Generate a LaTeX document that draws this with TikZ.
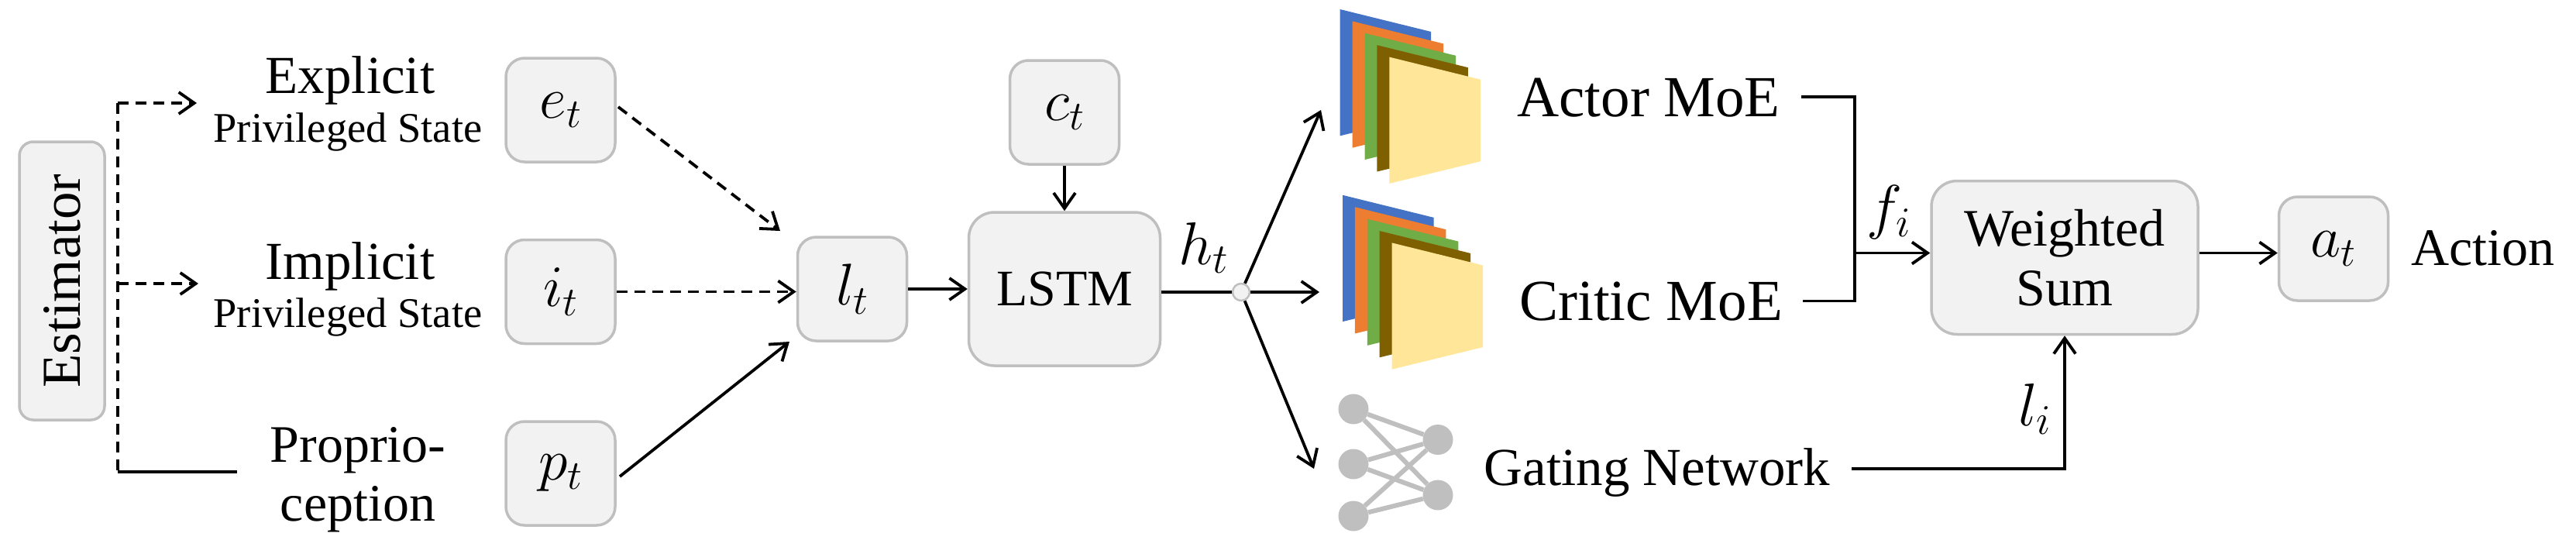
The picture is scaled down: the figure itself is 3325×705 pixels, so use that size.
\documentclass[tikz,border=0pt]{standalone}
\usepackage{fix-cm}
\usepackage{amsmath}
\usepackage{fontspec}
\setmainfont{Liberation Serif}
\usetikzlibrary{positioning, arrows.meta}

\definecolor{boxfill}{HTML}{F2F2F2}
\definecolor{boxline}{HTML}{BFBFBF}
\definecolor{sheetblue}{HTML}{4472C4}
\definecolor{sheetorange}{HTML}{ED7D31}
\definecolor{sheetgreen}{HTML}{70AD47}
\definecolor{sheetbrown}{HTML}{7F6000}
\definecolor{sheetyellow}{HTML}{FFE699}

\tikzset{
    blockbox/.style={draw=boxline, fill=boxfill, line width=3.5pt, rounded corners=24pt, inner sep=0pt, minimum width=141pt, minimum height=134pt, font=\fontsize{76}{90}\selectfont},
    bigblock/.style={blockbox, rounded corners=33pt, minimum height=198pt},
    mathlabel/.style={inner sep=0pt, font=\fontsize{78}{90}\selectfont},
    bigtext/.style={anchor=base, inner sep=0pt, font=\fontsize{69}{75}\selectfont},
    hugetext/.style={anchor=base, inner sep=0pt, font=\fontsize{75}{80}\selectfont},
    smalltext/.style={anchor=base, inner sep=0pt, font=\fontsize{54.5}{60}\selectfont},
    flow/.style={line width=3.8pt, -{Straight Barb[length=20pt, width=28pt]}},
    dashflow/.style={flow, dash pattern=on 14pt off 9pt},
    wire/.style={line width=3.8pt},
    gatedot/.style={circle, fill=boxline, inner sep=0pt, minimum size=39pt},
    gateedge/.style={draw=boxline, line width=6pt}
}

\begin{document}
\begin{tikzpicture}[x=1pt, y=-1pt]
    \useasboundingbox (0,0) rectangle (3325,705);

    \node[blockbox, minimum width=359pt, minimum height=110pt, rounded corners=18pt, rotate=90, font=\fontsize{71}{75}\selectfont] (estimator) at (80,362.5) {Estimator};

    \node[smalltext] (explicitsub) at (449,183.5) {Privileged State};
    \node[bigtext] (explicit) at (452,120.5) {Explicit};
    \node[smalltext] (implicitsub) at (449,422) {Privileged State};
    \node[bigtext] (implicit) at (452,360) {Implicit};
    \node[bigtext, align=center, anchor=center, font=\fontsize{68}{75.5}\selectfont] (proprio) at (462,619) {Proprio-\\ception};

    \node[blockbox] (et) at (723.5,142) {$e_t$};
    \node[blockbox] (it) at (723.5,376.5) {$i_t$};
    \node[blockbox] (pt) at (723.5,611) {$p_t$};
    \node[blockbox] (lt) at (1100,373) {$l_t$};
    \node[blockbox] (ct) at (1374,145) {$c_t$};
    \node[bigblock, minimum width=247pt, font=\fontsize{66}{75}\selectfont] (lstm) at (1374,373) {LSTM};
    \node[bigblock, minimum width=344pt, align=center, font=\fontsize{68}{77}\selectfont] (wsum) at (2665,332.5) {Weighted\\Sum};
    \node[blockbox] (at) at (3012,321) {$a_t$};

    \node[circle, draw=boxline, fill=boxfill, line width=2.5pt, inner sep=0pt, minimum size=22pt] (hub) at (1602,377) {};
    \node[mathlabel] (ht) at (1553,320) {$h_t$};
    \node[mathlabel] (fi) at (2438,274) {$f_i$};
    \node[mathlabel] (li) at (2626,528) {$l_i$};

    \foreach \sx/\sy in {1729.7/12, 1733/251.8}
    {
    \foreach \i/\sheetcol in {0/sheetblue, 1/sheetorange, 2/sheetgreen, 3/sheetbrown, 4/sheetyellow}
    {
    \fill[\sheetcol] ({\sx+15.9*\i},{\sy+15.4*\i}) -- ++(117.5,29) -- ++(0,105.7) -- ++(-117.5,28.6) -- cycle;
    }
    }

    \foreach \i/\gy in {1/528, 2/599, 3/666}
    {
    \node[gatedot] (gin\i) at (1747,\gy) {};
    }
    \foreach \i/\gy in {1/567.5, 2/639}
    {
    \node[gatedot] (gout\i) at (1856,\gy) {};
    }
    \foreach \i in {1,2,3}
    {
    \foreach \j in {1,2}
    {
    \draw[gateedge] (gin\i) -- (gout\j);
    }
    }

    \node[hugetext] (actor) at (2128,150) {Actor MoE};
    \node[hugetext] (critic) at (2131,413) {Critic MoE};
    \node[bigtext] (gating) at (2139,626) {Gating Network};
    \node[bigtext, font=\fontsize{68}{75}\selectfont] (action) at (3205,342.6) {Action};

    \coordinate (bustop) at (152,133);
    \coordinate (busmid) at (152,366);
    \coordinate (busend) at (152,609);
    \coordinate (exin) at (254,133);
    \coordinate (imin) at (256,366);
    \coordinate (prin) at (306,609);
    \coordinate (etout) at (798,138);
    \coordinate (etin) at (1007,298);
    \coordinate (ptout) at (800,615);
    \coordinate (ptin) at (1019,441);
    \coordinate (actorin) at (1705,142);
    \coordinate (criticin) at (1703,377);
    \coordinate (gatein) at (1696,605);
    \coordinate (actorout) at (2325,125);
    \coordinate (criticout) at (2327,388.5);
    \coordinate (merge) at (2394,326.5);
    \coordinate (gateout) at (2390,605);

    \draw[wire, dash pattern=on 14pt off 9pt] (bustop) -- (busend);
    \draw[dashflow] (bustop) -- (exin);
    \draw[dashflow] (busmid) -- (imin);
    \draw[wire] (busend) -- (prin);
    \draw[dashflow] (etout) -- (etin);
    \draw[dashflow] (it.east) -- (lt.west |- it.east);
    \draw[flow] (ptout) -- (ptin);
    \draw[flow] (lt) -- (lstm);
    \draw[flow] (ct) -- (lstm);
    \draw[wire] (lstm.east |- hub) -- (hub);
    \draw[flow] (hub) -- (actorin);
    \draw[flow] (hub) -- (criticin);
    \draw[flow] (hub) -- (gatein);
    \draw[wire] (actorout) -| (merge) |- (criticout);
    \draw[flow] (merge) -- (wsum.west |- merge);
    \draw[flow] (wsum.east |- merge) -- (at.west |- merge);
    \draw[flow] (gateout) -| (wsum);
\end{tikzpicture}
\end{document}
